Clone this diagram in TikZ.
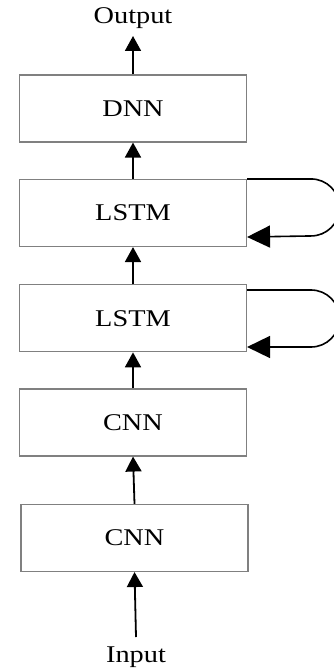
\documentclass[tikz,border=0pt]{standalone}
\usepackage{fontspec}
\setmainfont{Liberation Serif}
\usetikzlibrary{arrows.meta,calc}
\begin{document}
\begin{tikzpicture}[x=1pt,y=1pt,
  layer/.style={draw=black!50,line width=1.1pt,minimum width=227pt,minimum height=67pt,inner sep=0pt,
    font=\fontsize{24}{28}\selectfont},
  lbl/.style={inner sep=0pt,font=\fontsize{24}{28}\selectfont},
  uparrow/.style={line width=1.8pt,-{Triangle[width=16pt,length=15pt]}},
  looparrow/.style={line width=1.6pt,-{Triangle[width=22pt,length=23pt]}}]
\useasboundingbox (0,0) rectangle (333,-671);
\node[layer] (dnn) at (133,-108.5) {\scalebox{1.18}[1]{DNN}};
\node[layer] (lstma) at (133,-213) {\scalebox{1.18}[1]{LSTM}};
\node[layer] (lstmb) at (133,-318.3) {\scalebox{1.18}[1]{LSTM}};
\node[layer] (cnna) at (133,-422.5) {\scalebox{1.18}[1]{CNN}};
\node[layer] (cnnb) at (134.5,-538) {\scalebox{1.18}[1]{CNN}};
\node[lbl] (out) at (133,-18) {\scalebox{1.18}[1]{Output}};
\node[lbl] (in) at (136,-657) {\scalebox{1.18}[1]{Input}};
\coordinate (outtip) at (133,-36);
\coordinate (inbase) at (136,-637);
\draw[uparrow] (dnn.north) -- (outtip);
\draw[uparrow] (lstma.north) -- (dnn.south);
\draw[uparrow] (lstmb.north) -- (lstma.south);
\draw[uparrow] (cnna.north) -- (lstmb.south);
\draw[uparrow] (cnnb.north) -- (cnna.south);
\draw[uparrow] (inbase) -- (cnnb.south);
% recurrent loops
\coordinate (a1) at (lstma.north east);
\coordinate (a2) at ($(lstma.east)+(0,-24)$);
\draw[looparrow] (a1) -- ++(64,0) arc (90:-90:28.5) -- (a2);
\coordinate (b1) at ($(lstmb.east)+(0,28.3)$);
\coordinate (b2) at ($(lstmb.east)+(0,-28.7)$);
\draw[looparrow] (b1) -- ++(64,0) arc (90:-90:28.5) -- (b2);
\end{tikzpicture}
\end{document}
